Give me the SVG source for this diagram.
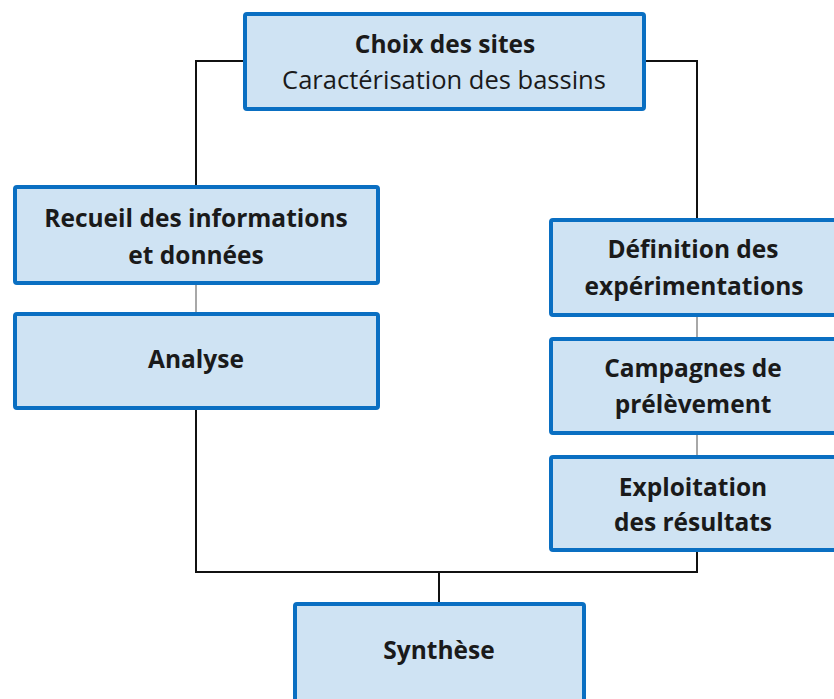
<svg xmlns="http://www.w3.org/2000/svg" width="834" height="699" viewBox="0 0 834 699">
<style>
.box{fill:#cfe3f3;stroke:#0a6fc2;stroke-width:4}
.t{font-family:"Open Sans","Liberation Sans",sans-serif;font-size:24.5px;fill:#1a1a1a;text-anchor:middle}
.r{font-size:25.5px}
.b{font-weight:bold}
.c{fill:none;stroke:#111;stroke-width:2}
.g{fill:none;stroke:#a8a8a8;stroke-width:2}
</style>
<rect width="834" height="699" fill="#fff"/>
<g id="connectors">
<path class="c" d="M243,61 H196 V185"/>
<path class="c" d="M646,61 H697 V218"/>
<path class="g" d="M196,285 V312"/>
<path class="g" d="M697,317 V337"/>
<path class="g" d="M697,435 V455"/>
<path class="c" d="M196,410 V572 H697 V552"/>
<path class="c" d="M439,572 V602"/>
</g>
<g id="choix">
<rect class="box" x="245" y="14" width="399" height="95" rx="2"/>
<text class="t b" x="445" y="53">Choix des sites</text>
<text class="t r" x="444" y="89">Caractérisation des bassins</text>
</g>
<g id="recueil">
<rect class="box" x="15" y="187" width="363" height="96" rx="2"/>
<text class="t b" x="196" y="227">Recueil des informations</text>
<text class="t b" x="196" y="264">et données</text>
</g>
<g id="analyse">
<rect class="box" x="15" y="314" width="363" height="94" rx="2"/>
<text class="t b" x="196" y="368">Analyse</text>
</g>
<g id="definition">
<rect class="box" x="551" y="220" width="300" height="95" rx="2"/>
<text class="t b" x="693" y="258">Définition des</text>
<text class="t b" x="694" y="295">expérimentations</text>
</g>
<g id="campagnes">
<rect class="box" x="551" y="339" width="300" height="94" rx="2"/>
<text class="t b" x="693" y="377">Campagnes de</text>
<text class="t b" x="693" y="413">prélèvement</text>
</g>
<g id="exploitation">
<rect class="box" x="551" y="457" width="300" height="93" rx="2"/>
<text class="t b" x="693" y="496">Exploitation</text>
<text class="t b" x="693" y="531">des résultats</text>
</g>
<g id="synthese">
<rect class="box" x="295" y="604" width="289" height="110" rx="2"/>
<text class="t b" x="439" y="659">Synthèse</text>
</g>
</svg>
